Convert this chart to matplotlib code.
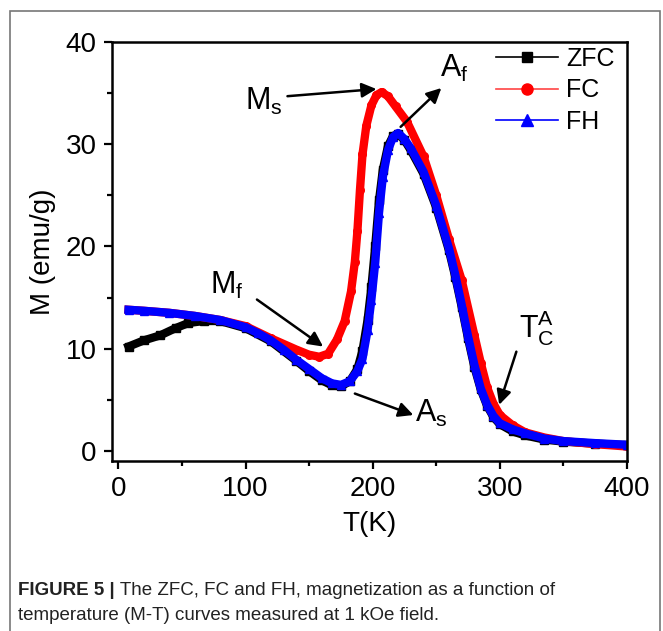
import matplotlib
matplotlib.use('Agg')
import matplotlib.pyplot as plt
from matplotlib.lines import Line2D
from matplotlib.patches import Rectangle

plt.rcParams['font.family'] = ['Liberation Sans', 'DejaVu Sans']
plt.rcParams['mathtext.fontset'] = 'custom'
plt.rcParams['mathtext.rm'] = 'Liberation Sans'
plt.rcParams['mathtext.it'] = 'Liberation Sans'

#################### Data ####################
T_ZFC = [8, 20, 33, 45, 55, 67, 80, 100, 120, 140, 150, 160, 168, 175, 182, 188,
         192, 196, 199, 202, 205, 208, 212, 216, 220, 225, 230, 240, 250, 260,
         265, 270, 275, 280, 285, 290, 295, 300, 310, 320, 335, 350, 375, 400]
M_ZFC = [10.2, 10.8, 11.3, 12.0, 12.5, 12.7, 12.7, 12.0, 10.7, 8.8, 7.8, 6.9, 6.4,
         6.3, 6.8, 8.0, 9.8, 12.8, 16.0, 20.0, 24.5, 27.5, 29.8, 30.8, 31.0, 30.4,
         29.4, 27.1, 23.8, 19.6, 17.0, 14.1, 11.0, 8.2, 6.0, 4.4, 3.3, 2.6, 1.9,
         1.5, 1.1, 0.9, 0.7, 0.55]

T_FC = [8, 20, 40, 60, 80, 100, 120, 140, 150, 158, 165, 172, 178, 183, 186, 188,
        190, 192, 195, 199, 203, 207, 212, 218, 227, 240, 250, 260, 270, 280, 285,
        290, 295, 300, 310, 320, 335, 350, 375, 400]
M_FC = [13.8, 13.7, 13.5, 13.2, 12.8, 12.2, 11.0, 9.9, 9.4, 9.2, 9.5, 10.9, 12.7,
        15.6, 18.5, 21.5, 25.5, 29.0, 31.8, 33.8, 34.8, 35.1, 34.7, 33.7, 32.2,
        28.8, 25.0, 20.7, 16.7, 11.3, 8.6, 6.2, 4.6, 3.5, 2.5, 1.8, 1.3, 0.95,
        0.65, 0.42]

T_FH = [8, 20, 40, 60, 80, 100, 110, 120, 130, 140, 150, 160, 168, 175, 182, 188,
        192, 196, 199, 202, 205, 208, 212, 216, 220, 225, 230, 240, 250, 260, 265,
        270, 275, 280, 285, 290, 295, 300, 310, 320, 335, 350, 375, 400]
M_FH = [13.8, 13.7, 13.5, 13.2, 12.8, 12.1, 11.5, 10.8, 9.9, 8.9, 8.0, 7.1, 6.6,
        6.45, 6.8, 7.8, 9.0, 11.8, 14.8, 18.4, 23.3, 26.8, 29.4, 30.7, 31.1, 30.5,
        29.6, 27.3, 24.0, 19.8, 17.2, 14.3, 11.2, 8.4, 6.1, 4.5, 3.4, 2.7, 2.1,
        1.7, 1.2, 0.95, 0.75, 0.59]

CAPTION_BOLD = 'FIGURE 5 |'
CAPTION_1 = ' The ZFC, FC and FH, magnetization as a function of'
CAPTION_2 = 'temperature (M-T) curves measured at 1 kOe field.'
#################### Data ####################

fig = plt.figure(figsize=(6.63, 6.31), dpi=100)
ax = fig.add_axes([0.1689, 0.2694, 0.7768, 0.664])

ax.plot(T_ZFC, M_ZFC, color='black', marker='s', ms=5.5, lw=6, solid_joinstyle='round')
ax.plot(T_FC, M_FC, color='red', marker='o', ms=5.5, lw=6, solid_joinstyle='round')
ax.plot(T_FH, M_FH, color='blue', marker='^', ms=5.5, lw=6, solid_joinstyle='round')

ax.set_xlim(-5, 400)
ax.set_ylim(-1, 40)
ax.set_xticks([0, 100, 200, 300, 400])
ax.set_yticks([0, 10, 20, 30, 40])
ax.set_xticks([50, 150, 250, 350], minor=True)
ax.set_yticks([5, 15, 25, 35], minor=True)
ax.tick_params(which='major', direction='out', length=6, width=1.6, labelsize=20, pad=5)
ax.tick_params(which='minor', direction='out', length=3.5, width=1.6)
for s in ax.spines.values():
    s.set_linewidth(1.8)

ax.set_xlabel('T(K)', fontsize=20, labelpad=6)
ax.set_ylabel('M (emu/g)', fontsize=20, labelpad=7)

handles = [
    Line2D([], [], color='black', lw=1.2, marker='s', ms=7),
    Line2D([], [], color='#ff4444', lw=1.2, marker='o', ms=8, mfc='red', mec='red'),
    Line2D([], [], color='blue', lw=1.2, marker='^', ms=8),
]
ax.legend(handles, ['ZFC', 'FC', 'FH'], loc='upper right', frameon=False,
          fontsize=18, numpoints=1, handlelength=2.5, handletextpad=0.3,
          labelspacing=0.3, borderaxespad=0.1, bbox_to_anchor=(1.0, 1.018))

arrow = dict(arrowstyle='-|>', color='black', lw=1.8, mutation_scale=22,
             shrinkA=0, shrinkB=0)
ax.annotate('', xy=(203, 35.4), xytext=(133, 34.7), arrowprops=arrow)
ax.text(114, 34.2, r'M$_\mathregular{s}$', fontsize=22, ha='center', va='center')
ax.annotate('', xy=(254, 35.5), xytext=(222, 31.7), arrowprops=arrow)
ax.text(264, 37.4, r'A$_\mathregular{f}$', fontsize=22, ha='center', va='center')
ax.annotate('', xy=(161, 10.2), xytext=(109, 14.8), arrowprops=arrow)
ax.text(85, 16.2, r'M$_\mathregular{f}$', fontsize=22, ha='center', va='center')
ax.annotate('', xy=(232, 3.5), xytext=(186, 5.6), arrowprops=arrow)
ax.text(246, 3.7, r'A$_\mathregular{s}$', fontsize=22, ha='center', va='center')
ax.annotate('', xy=(299.5, 4.5), xytext=(313, 9.7), arrowprops=arrow)
ax.text(329, 12.0, r'T$_\mathregular{C}^\mathregular{A}$', fontsize=22, ha='center', va='center')

# grey frame around the figure panel
fig.patches.append(Rectangle((10 / 663, -0.1), 650 / 663, 1.1 - 11 / 631,
                             transform=fig.transFigure, fill=False,
                             edgecolor='#777777', lw=1.2))

cap_font = ['Liberation Sans', 'DejaVu Sans']
t1 = fig.text(18 / 663, 1 - 595 / 631, CAPTION_BOLD, fontsize=13.5,
              weight='bold', family=cap_font, color='#222222')
fig.canvas.draw()
bb = t1.get_window_extent(fig.canvas.get_renderer())
fig.text(bb.x1 / 663, 1 - 595 / 631, CAPTION_1, fontsize=13.5,
         family=cap_font, color='#222222')
fig.text(18 / 663, 1 - 620 / 631, CAPTION_2, fontsize=13.5,
         family=cap_font, color='#222222')

plt.savefig('out.png', dpi=100)
